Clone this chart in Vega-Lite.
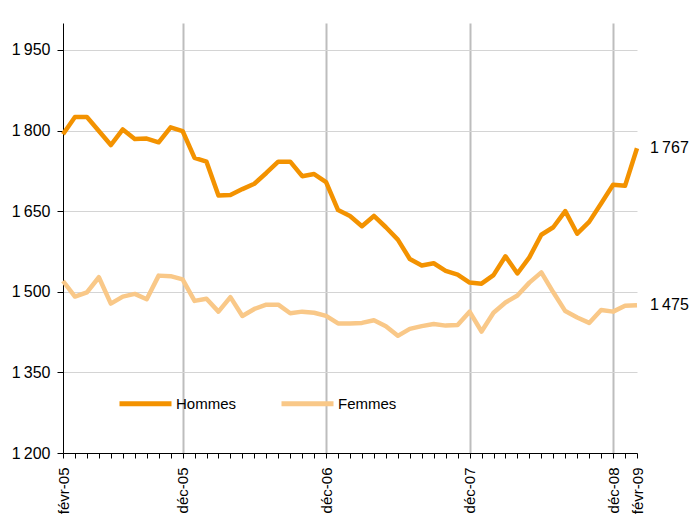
{
  "$schema": "https://vega.github.io/schema/vega-lite/v6.json",
  "width": 574,
  "height": 430,
  "autosize": "none",
  "padding": {"left": 63, "top": 23, "right": 53, "bottom": 62},
  "background": "white",
  "config": {
    "view": {"stroke": null},
    "font": "Liberation Sans",
    "locale": {"number": {"decimal": ",", "thousands": "\u2009", "grouping": [3], "currency": ["", " €"]}}
  },
  "data": {"values": [
    {"mois": "févr-05", "Hommes": 1793, "Femmes": 1520},
    {"mois": "mars-05", "Hommes": 1825, "Femmes": 1491},
    {"mois": "avr-05", "Hommes": 1825, "Femmes": 1499},
    {"mois": "mai-05", "Hommes": 1799, "Femmes": 1527},
    {"mois": "juin-05", "Hommes": 1773, "Femmes": 1478},
    {"mois": "juil-05", "Hommes": 1802, "Femmes": 1491},
    {"mois": "août-05", "Hommes": 1784, "Femmes": 1496},
    {"mois": "sept-05", "Hommes": 1785, "Femmes": 1486},
    {"mois": "oct-05", "Hommes": 1778, "Femmes": 1530},
    {"mois": "nov-05", "Hommes": 1806, "Femmes": 1529},
    {"mois": "déc-05", "Hommes": 1799, "Femmes": 1523},
    {"mois": "janv-06", "Hommes": 1749, "Femmes": 1483},
    {"mois": "févr-06", "Hommes": 1742, "Femmes": 1487},
    {"mois": "mars-06", "Hommes": 1679, "Femmes": 1463},
    {"mois": "avr-06", "Hommes": 1680, "Femmes": 1490},
    {"mois": "mai-06", "Hommes": 1691, "Femmes": 1455},
    {"mois": "juin-06", "Hommes": 1701, "Femmes": 1468},
    {"mois": "juil-06", "Hommes": 1721, "Femmes": 1476},
    {"mois": "août-06", "Hommes": 1742, "Femmes": 1476},
    {"mois": "sept-06", "Hommes": 1742, "Femmes": 1460},
    {"mois": "oct-06", "Hommes": 1715, "Femmes": 1463},
    {"mois": "nov-06", "Hommes": 1719, "Femmes": 1461},
    {"mois": "déc-06", "Hommes": 1704, "Femmes": 1455},
    {"mois": "janv-07", "Hommes": 1652, "Femmes": 1441},
    {"mois": "févr-07", "Hommes": 1641, "Femmes": 1441},
    {"mois": "mars-07", "Hommes": 1622, "Femmes": 1442},
    {"mois": "avr-07", "Hommes": 1641, "Femmes": 1447},
    {"mois": "mai-07", "Hommes": 1620, "Femmes": 1436},
    {"mois": "juin-07", "Hommes": 1597, "Femmes": 1418},
    {"mois": "juil-07", "Hommes": 1561, "Femmes": 1431},
    {"mois": "août-07", "Hommes": 1549, "Femmes": 1436},
    {"mois": "sept-07", "Hommes": 1553, "Femmes": 1440},
    {"mois": "oct-07", "Hommes": 1539, "Femmes": 1437},
    {"mois": "nov-07", "Hommes": 1532, "Femmes": 1438},
    {"mois": "déc-07", "Hommes": 1517, "Femmes": 1463},
    {"mois": "janv-08", "Hommes": 1515, "Femmes": 1426},
    {"mois": "févr-08", "Hommes": 1531, "Femmes": 1461},
    {"mois": "mars-08", "Hommes": 1566, "Femmes": 1480},
    {"mois": "avr-08", "Hommes": 1534, "Femmes": 1493},
    {"mois": "mai-08", "Hommes": 1564, "Femmes": 1517},
    {"mois": "juin-08", "Hommes": 1606, "Femmes": 1536},
    {"mois": "juil-08", "Hommes": 1620, "Femmes": 1499},
    {"mois": "août-08", "Hommes": 1650, "Femmes": 1464},
    {"mois": "sept-08", "Hommes": 1608, "Femmes": 1452},
    {"mois": "oct-08", "Hommes": 1630, "Femmes": 1442},
    {"mois": "nov-08", "Hommes": 1664, "Femmes": 1466},
    {"mois": "déc-08", "Hommes": 1699, "Femmes": 1463},
    {"mois": "janv-09", "Hommes": 1697, "Femmes": 1474},
    {"mois": "févr-09", "Hommes": 1767, "Femmes": 1475}
  ]},
  "transform": [{"fold": ["Hommes", "Femmes"], "as": ["serie", "valeur"]}],
  "encoding": {
    "x": {
      "field": "mois", "type": "ordinal", "sort": null,
      "scale": {"type": "point", "padding": 0},
      "axis": {
        "title": null,
        "domainColor": "#000000",
        "domainWidth": 1,
        "tickColor": "#000000",
        "tickSize": 5,
        "labelAngle": -90,
        "labelAlign": "right",
        "labelBaseline": "middle",
        "labelFontSize": 15,
        "labelColor": "#000000",
        "labelPadding": 9,
        "labelOverlap": false,
        "labelExpr": "indexof(['févr-05','déc-05','déc-06','déc-07','déc-08','févr-09'], datum.value) >= 0 ? datum.value : ''",
        "grid": true,
        "gridColor": {"condition": {"test": "indexof(['déc-05','déc-06','déc-07','déc-08'], datum.value) >= 0", "value": "#BDBDBD"}, "value": "transparent"},
        "gridWidth": 2
      }
    },
    "y": {
      "field": "valeur", "type": "quantitative",
      "scale": {"domain": [1200, 2000], "nice": false, "zero": false},
      "axis": {
        "title": null,
        "values": [1200, 1350, 1500, 1650, 1800, 1950],
        "format": ",d",
        "domainColor": "#000000",
        "tickColor": "#000000",
        "tickSize": 6,
        "labelFontSize": 16,
        "labelColor": "#000000",
        "labelPadding": 7,
        "gridColor": "#D4D4D4",
        "gridWidth": 1
      }
    }
  },
  "layer": [
    {
      "mark": {"type": "line", "strokeWidth": 4.5, "strokeJoin": "round"},
      "encoding": {
        "color": {
          "field": "serie", "type": "nominal",
          "scale": {"domain": ["Hommes", "Femmes"], "range": ["#F39200", "#F9C888"]},
          "legend": {
            "title": null,
            "orient": "none",
            "legendX": 54,
            "legendY": 352,
            "direction": "horizontal",
            "symbolType": "stroke",
            "symbolStrokeWidth": 5,
            "symbolSize": 2704,
            "labelFontSize": 15,
            "labelColor": "#000000",
            "labelOffset": 2,
            "columnPadding": 34
          }
        }
      }
    },
    {
      "transform": [{"filter": "datum.mois == 'févr-09'"}],
      "mark": {"type": "text", "align": "left", "baseline": "middle", "dx": 13, "fontSize": 16, "color": "#000000"},
      "encoding": {
        "text": {"field": "valeur", "type": "quantitative", "format": ",d"}
      }
    }
  ]
}
